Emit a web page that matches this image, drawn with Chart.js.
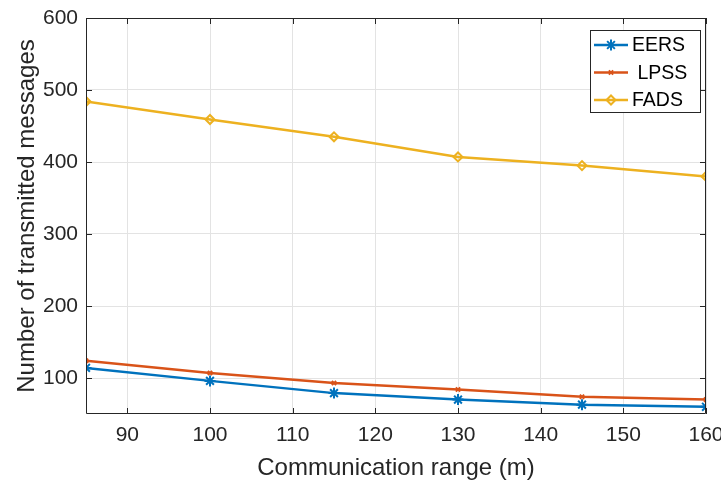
<!DOCTYPE html>
<html>
<head>
<meta charset="utf-8">
<script src="https://cdn.jsdelivr.net/npm/chart.js@4.4.0/dist/chart.umd.min.js"></script>
<style>
html,body{margin:0;padding:0;background:#fff;}
#wrap{width:721px;height:484px;position:relative;}
</style>
</head>
<body>
<div id="wrap"><canvas id="c"></canvas></div>
<script>
const ranges = [85, 100, 115, 130, 145, 160];
const eers = [114, 96, 79, 70, 63, 60];
const lpss = [124, 107, 93, 84, 74, 70];
const fads = [484, 459, 435, 407, 395, 380];
const xTicks = [90, 100, 110, 120, 130, 140, 150, 160];
const yTicks = [100, 200, 300, 400, 500, 600];
const seriesNames = ['EERS', ' LPSS', 'FADS'];

const FONT = '"Liberation Sans", Arial, Helvetica, sans-serif';
const AXIS = '#262626';

function pts(arr){ return ranges.map((x,i)=>({x:x, y:arr[i]})); }

const frame = {
  id: 'frame',
  afterDatasetsDraw(chart){
    const {ctx, chartArea:a, scales} = chart;
    ctx.save();
    ctx.strokeStyle = AXIS;
    ctx.lineWidth = 1;
    ctx.beginPath();
    ctx.rect(a.left+0.5, a.top+0.5, a.right-a.left-1, a.bottom-a.top-1);
    ctx.stroke();
    const tl = 6;
    ctx.beginPath();
    xTicks.forEach(v=>{
      const x = Math.round(scales.x.getPixelForValue(v))+0.5;
      ctx.moveTo(x, a.bottom); ctx.lineTo(x, a.bottom-tl);
      ctx.moveTo(x, a.top); ctx.lineTo(x, a.top+tl);
    });
    yTicks.forEach(v=>{
      const y = Math.round(scales.y.getPixelForValue(v))+0.5;
      ctx.moveTo(a.left, y); ctx.lineTo(a.left+tl, y);
      ctx.moveTo(a.right, y); ctx.lineTo(a.right-tl, y);
    });
    ctx.stroke();
    ctx.restore();
  },
  afterDraw(chart){
    const {ctx, chartArea:a} = chart;
    const bx = a.right-116, by = a.top+12, bw = 110, bh = 82;
    ctx.save();
    ctx.fillStyle = '#fff';
    ctx.fillRect(bx, by, bw, bh);
    ctx.strokeStyle = AXIS;
    ctx.lineWidth = 1;
    ctx.strokeRect(bx+0.5, by+0.5, bw, bh);
    chart.data.datasets.forEach((ds,i)=>{
      const y = by + 15 + i*27.5;
      ctx.strokeStyle = ds.borderColor;
      ctx.lineWidth = 2.5;
      ctx.beginPath();
      ctx.moveTo(bx+4, y); ctx.lineTo(bx+38, y);
      ctx.stroke();
      ctx.fillStyle = ds.pointBackgroundColor;
      ctx.lineWidth = ds.pointBorderWidth;
      Chart.helpers.drawPoint(ctx, {pointStyle: ds.pointStyle, radius: ds.pointRadius, borderWidth: ds.pointBorderWidth, rotation:0}, bx+21, y);
      ctx.fillStyle = '#000';
      ctx.font = '19.5px ' + FONT;
      ctx.textBaseline = 'middle';
      ctx.textAlign = 'left';
      ctx.fillText(ds.label, bx+42, y+1);
    });
    ctx.restore();
  }
};

function mk(label, data, color, style, r, fill){
  return {
    label, data: pts(data), borderColor: color, backgroundColor: fill ? color : 'rgba(0,0,0,0)',
    pointStyle: style, pointRadius: r, pointBorderWidth: 2, pointBorderColor: color,
    pointBackgroundColor: fill ? color : 'rgba(0,0,0,0)',
    borderWidth: 2.5, tension: 0, fill: false
  };
}

new Chart(document.getElementById('c'), {
  type: 'line',
  data: {
    datasets: [
      mk(seriesNames[0], eers, '#0072BD', 'star', 5.5, true),
      mk(seriesNames[1], lpss, '#D95319', 'crossRot', 3, false),
      mk(seriesNames[2], fads, '#EDB120', 'rectRot', 4.5, false)
    ]
  },
  options: {
    responsive: true,
    maintainAspectRatio: false,
    animation: false,
    devicePixelRatio: 1,
    layout: { padding: { left: 0, top: 18, right: 15, bottom: 0 } },
    plugins: { legend: { display: false }, tooltip: { enabled: false } },
    scales: {
      x: {
        type: 'linear', min: 85, max: 160,
        afterBuildTicks(s){ s.ticks = xTicks.map(v=>({value:v})); },
        afterFit(s){ s.height = 70; s.paddingLeft = 0; s.paddingRight = 0; },
        grid: { color: '#e3e3e3', drawTicks: false },
        border: { display: false },
        ticks: { color: AXIS, font: { family: FONT, size: 21 }, padding: 9, maxRotation: 0 },
        title: { display: true, text: 'Communication range (m)', color: AXIS, font: { family: FONT, size: 24 }, padding: { top: 0, bottom: 1 } }
      },
      y: {
        type: 'linear', min: 50, max: 600,
        afterBuildTicks(s){ s.ticks = yTicks.map(v=>({value:v})); },
        afterFit(s){ s.width = 86; s.paddingTop = 0; s.paddingBottom = 0; },
        grid: { color: '#e3e3e3', drawTicks: false },
        border: { display: false },
        ticks: { color: AXIS, font: { family: FONT, size: 21 }, padding: 8 },
        title: { display: true, text: 'Number of transmitted messages', color: AXIS, font: { family: FONT, size: 24 }, padding: { top: 13, bottom: 0 } }
      }
    }
  },
  plugins: [frame]
});
</script>
</body>
</html>
